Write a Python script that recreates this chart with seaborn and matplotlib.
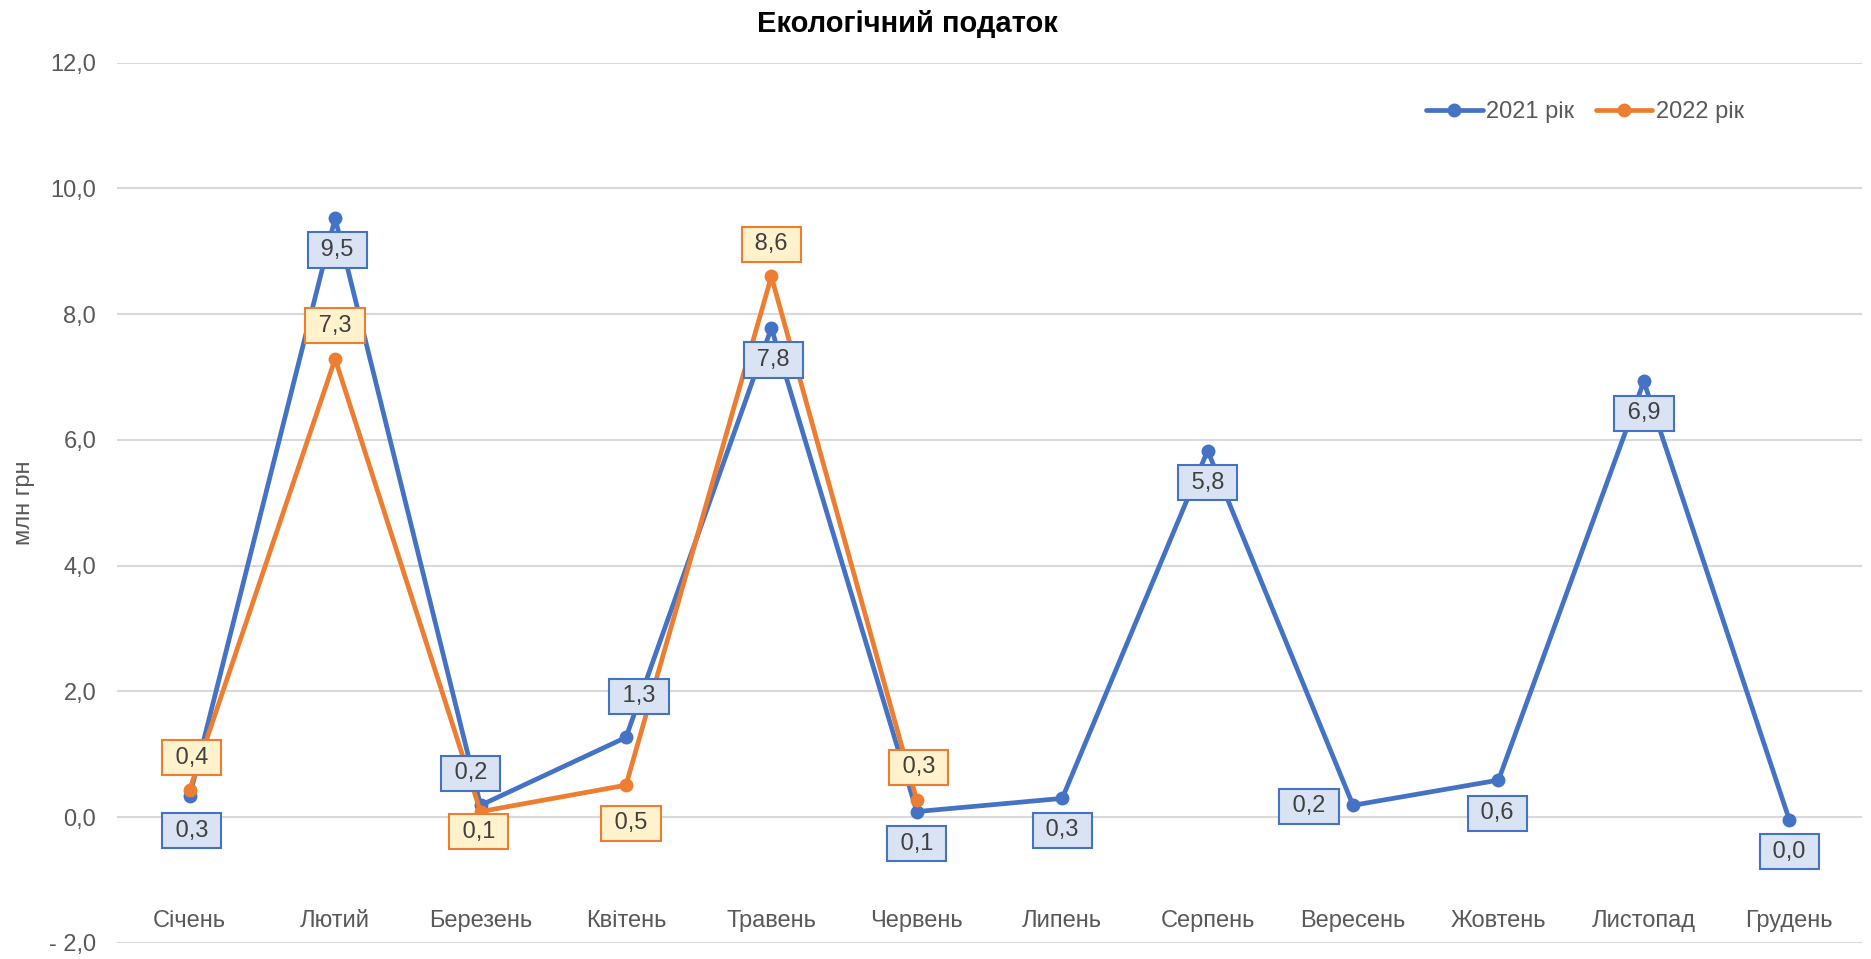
import matplotlib
matplotlib.use("Agg")
import matplotlib.pyplot as plt
import seaborn as sns
import pandas as pd
from matplotlib.ticker import FixedLocator, FuncFormatter

# --- data -------------------------------------------------------------
months = ["Січень", "Лютий", "Березень", "Квітень", "Травень", "Червень",
          "Липень", "Серпень", "Вересень", "Жовтень", "Листопад", "Грудень"]
tax_2021 = [0.34, 9.53, 0.19, 1.27, 7.78, 0.09, 0.30, 5.83, 0.19, 0.59, 6.93, -0.04]
tax_2022 = [0.44, 7.29, 0.09, 0.51, 8.60, 0.27]
series_names = ["2021 рік", "2022 рік"]
y_ticks = [-2, 0, 2, 4, 6, 8, 10, 12]

# label offsets from their points, in pixels (dx right, dy down)
offsets_2021 = [(2, 35), (2, 32), (-10, -32), (13, -41), (2, 32), (0, 32),
                (0, 32), (0, 32), (-44, 1), (-1, 33), (0, 32), (0, 32)]
offsets_2022 = [(2, -32), (0, -33), (-2, 20), (5, 38), (0, -32), (2, -33)]

# --- style ------------------------------------------------------------
sns.set_theme(style="white")
plt.rcParams["font.family"] = ["Liberation Sans", "DejaVu Sans"]

BLUE, ORANGE = "#4472C4", "#ED7D31"
BLUE_FACE, ORANGE_FACE = "#DAE3F3", "#FFF2CC"
GRID = "#D9D9D9"
TICK = "#595959"
FS = 17
PX = 0.72  # pixels -> points at dpi 100

fig = plt.figure(figsize=(18.71, 9.59), dpi=100)
ax = fig.add_axes([117 / 1871, 1 - 943 / 959, (1862 - 117) / 1871, (943 - 62.7) / 959])

df = pd.concat([
    pd.DataFrame({"x": range(len(tax_2021)), "value": tax_2021, "series": series_names[0]}),
    pd.DataFrame({"x": range(len(tax_2022)), "value": tax_2022, "series": series_names[1]}),
])

for name, color in zip(series_names, [BLUE, ORANGE]):
    sns.lineplot(data=df[df["series"] == name], x="x", y="value", ax=ax,
                 color=color, linewidth=3.4, marker="o", markersize=10,
                 markeredgewidth=0, label=name, zorder=3)


def fmt(v):
    r = round(v, 1)
    if r == 0:
        r = 0.0
    return f"{r:.1f}".replace(".", ",")


def add_labels(values, offsets, edge, face):
    for i, (v, (dx, dy)) in enumerate(zip(values, offsets)):
        ax.annotate(f" {fmt(v)} ", xy=(i, v), xytext=(dx * PX, -dy * PX),
                    textcoords="offset points", ha="center", va="center",
                    fontsize=FS, color="#404040", zorder=6,
                    bbox=dict(boxstyle="square,pad=0.28", fc=face, ec=edge, lw=1.5))


add_labels(tax_2021, offsets_2021, BLUE, BLUE_FACE)
add_labels(tax_2022, offsets_2022, ORANGE, ORANGE_FACE)

# --- axes -------------------------------------------------------------
ax.set_xlim(-0.5, 11.5)
ax.set_ylim(-2, 12)
ax.yaxis.set_major_locator(FixedLocator(y_ticks))
ax.yaxis.set_major_formatter(FuncFormatter(
    lambda v, p: ("- " + fmt(abs(v))) if v < 0 else fmt(v)))
ax.set_xticks(range(len(months)))
ax.set_xticklabels(months)
ax.tick_params(axis="x", length=0, pad=-24, labelsize=FS, labelcolor=TICK)
ax.tick_params(axis="y", length=0, pad=15, labelsize=FS, labelcolor=TICK)
ax.grid(axis="y", color=GRID, linewidth=1.5)
ax.grid(axis="x", visible=False)
ax.set_axisbelow(True)
for s in ax.spines.values():
    s.set_visible(False)
ax.set_xlabel("")
ax.set_ylabel("млн грн", fontsize=FS, color=TICK, labelpad=10)

leg = ax.legend(loc="center", bbox_to_anchor=(1585 / 1871, 1 - 112 / 959),
                bbox_transform=fig.transFigure, ncol=2, frameon=False,
                fontsize=FS, handlelength=2.4, handletextpad=0.15,
                columnspacing=0.9, labelcolor=TICK)

fig.text(907 / 1871, 1 - 24 / 959, "Екологічний податок", ha="center", va="center",
         fontsize=21, fontweight="bold", color="#000000")

fig.savefig("out.png", dpi=100)
